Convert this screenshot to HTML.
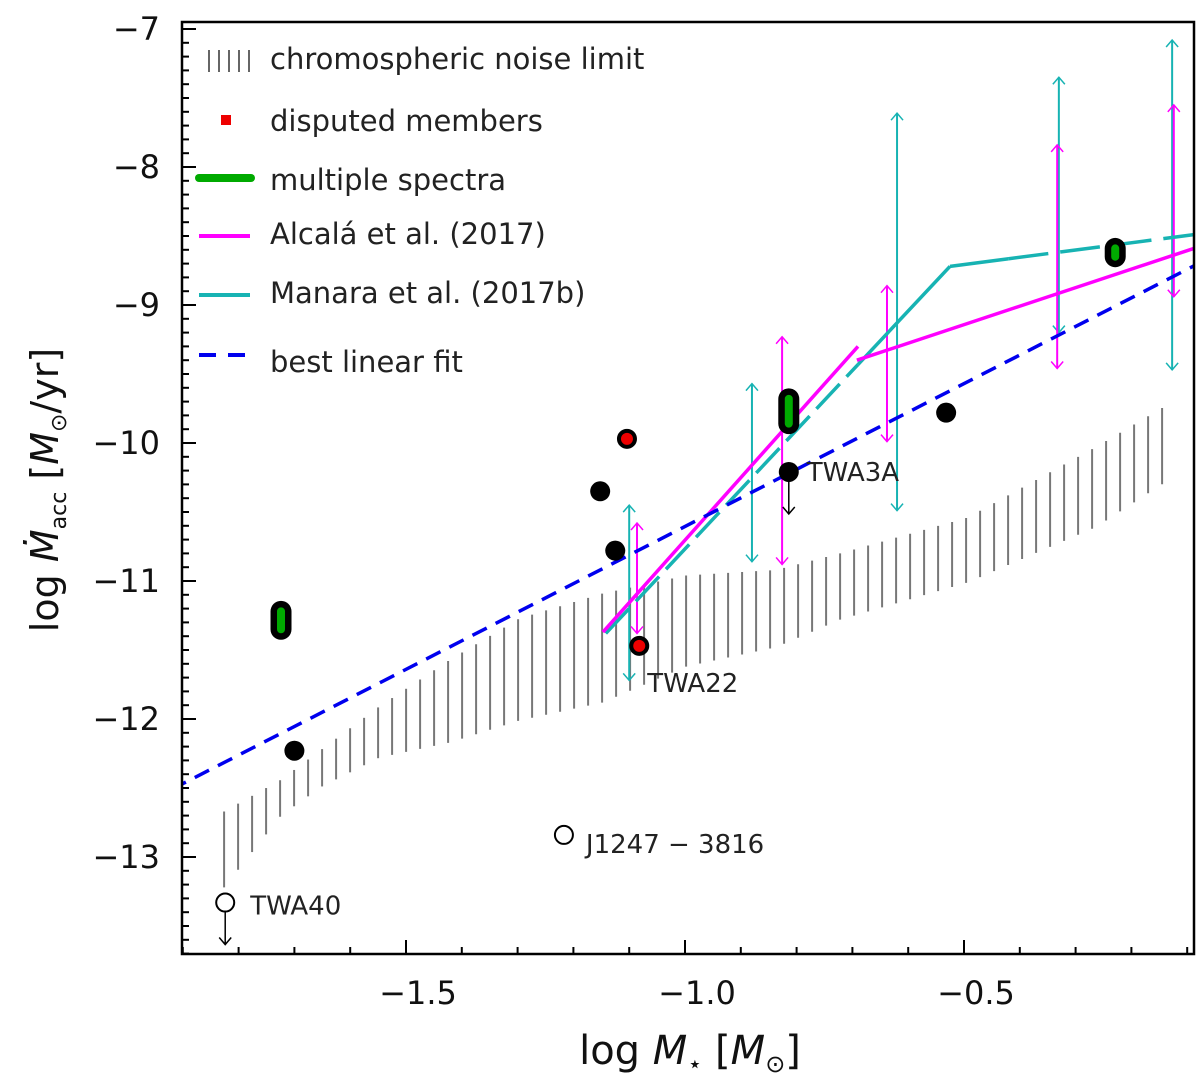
<!DOCTYPE html>
<html><head><meta charset="utf-8"><style>
body{margin:0;background:#fff;}
svg{display:block;font-family:"DejaVu Sans","Liberation Sans",sans-serif;}
</style></head><body>
<svg id="chart" width="1200" height="1082" viewBox="0 0 1200 1082" xmlns="http://www.w3.org/2000/svg">
<defs><clipPath id="clip"><rect x="182" y="22" width="1012" height="932"/></clipPath></defs>
<g id="plot" clip-path="url(#clip)"></g>
<g id="axes"></g>
</svg>
<script>
// ---- data ----
const xTicks = [-1.5, -1.0, -0.5];
const xTickLabels = ["\u22121.5", "\u22121.0", "\u22120.5"];
const yTicks = [-7, -8, -9, -10, -11, -12, -13];
const yTickLabels = ["\u22127", "\u22128", "\u22129", "\u221210", "\u221211", "\u221212", "\u221213"];
const noiseX = [-1.826, -1.724, -1.651, -1.548, -1.421, -1.296, -1.147, -0.998, -0.837, -0.722, -0.493, -0.264, -0.134];
const noiseTop = [-12.67, -12.44, -12.22, -11.91, -11.57, -11.27, -11.09, -10.96, -10.92, -10.80, -10.54, -10.03, -9.72];
const noiseBottom = [-13.22, -12.70, -12.49, -12.28, -12.17, -12.01, -11.88, -11.62, -11.48, -11.28, -11.01, -10.61, -10.27];
const fitX = [-1.92, -0.08];
const fitY = [-12.51, -8.70];
const alcalaX1 = [-1.147, -0.69];
const alcalaY1 = [-11.37, -9.30];
const alcalaX2 = [-0.692, -0.088];
const alcalaY2 = [-9.40, -8.59];
const manaraX = [-1.142, -0.525, -0.088];
const manaraY = [-11.38, -8.72, -8.49];
const magErrX = [-1.086, -0.826, -0.638, -0.333, -0.124];
const magErrHi = [-10.58, -9.23, -8.86, -7.84, -7.55];
const magErrLo = [-11.38, -10.88, -9.99, -9.46, -8.94];
const cyaErrX = [-1.100, -0.880, -0.620, -0.330, -0.127];
const cyaErrHi = [-10.45, -9.57, -7.61, -7.35, -7.08];
const cyaErrLo = [-11.72, -10.86, -10.49, -9.20, -9.47];
const blackX = [-1.70, -1.152, -1.125, -0.814, -0.532];
const blackY = [-12.23, -10.35, -10.78, -10.21, -9.78];
const redX = [-1.104, -1.082];
const redY = [-9.97, -11.47];
const multiX = [-1.724, -0.814, -0.229];
const multiY1 = [-11.22, -9.68, -8.59];
const multiY2 = [-11.35, -9.86, -8.65];
const openX = [-1.217, -1.824];
const openY = [-12.84, -13.33];
const labelNames = ["TWA3A", "TWA22", "J1247 \u2212 3816", "TWA40"];
const labelX = [-0.814, -1.082, -1.217, -1.824];
const labelY = [-10.21, -11.47, -12.84, -13.33];
const upperLimX = [-0.814, -1.824];
const upperLimY = [-10.21, -13.33];

// ---- axes functions ----
const X0 = 406, XS = 558, Y0 = 29, YS = 138;
function sx(v){ return X0 + (v + 1.5) * XS; }
function sy(v){ return Y0 + (-7 - v) * YS; }
const NS = "http://www.w3.org/2000/svg";
function mk(tag, attrs, parent){ const e=document.createElementNS(NS,tag); for(const k in attrs) e.setAttribute(k,attrs[k]); parent.appendChild(e); return e; }
const plot = document.getElementById('plot'), axes = document.getElementById('axes');
function interp(xs, ys, x){ for(let i=0;i<xs.length-1;i++){ if(x>=xs[i]&&x<=xs[i+1]){ const t=(x-xs[i])/(xs[i+1]-xs[i]); return ys[i]+t*(ys[i+1]-ys[i]); } } return x<xs[0]?ys[0]:ys[ys.length-1]; }

// noise hatch
for(let px = sx(noiseX[0]); px <= sx(noiseX[noiseX.length-1]) + 0.5; px += 14){
  const xv = (px - X0)/XS - 1.5;
  const l = mk('line',{x1:px,x2:px,y1:sy(interp(noiseX,noiseTop,xv)),y2:sy(interp(noiseX,noiseBottom,xv)),stroke:'#777','stroke-width':2},plot);
  
  
}

function arrowHead(x, y, dir, color, parent){
  const d = dir<0 ? `M${x-6},${y+7} L${x},${y} L${x+6},${y+7}` : `M${x-6},${y-7} L${x},${y} L${x+6},${y-7}`;
  return mk('path',{d:d,fill:'none',stroke:color,'stroke-width':1.5},parent);
}
function errBars(xs, hi, lo, color, name){
  for(let i=0;i<xs.length;i++){
    const g = mk('g',{},plot);
    
    
    const x=sx(xs[i]), y1=sy(hi[i]), y2=sy(lo[i]);
    mk('line',{x1:x,x2:x,y1:y1,y2:y2,stroke:color,'stroke-width':2},g);
    arrowHead(x,y1,-1,color,g); arrowHead(x,y2,1,color,g);
  }
}
errBars(cyaErrX,cyaErrHi,cyaErrLo,'#17b3b3','manara-range-bar');
errBars(magErrX,magErrHi,magErrLo,'#ff00ff','alcala-range-bar');

// Manara line: segment 1 dashed then solid near kink; segment 2 solid then dashed
function seg(xa,ya,xb,yb,dash,name){
  const l = mk('line',{x1:sx(xa),y1:sy(ya),x2:sx(xb),y2:sy(yb),stroke:'#17b3b3','stroke-width':3.5},plot);
  if(dash) l.setAttribute('stroke-dasharray',dash);
  
  
}
const kx1 = -0.69, ky1 = interp(manaraX, manaraY, kx1);
seg(manaraX[0],manaraY[0],kx1,ky1,'34 10','manara-relation-extrapolated');
seg(kx1,ky1,manaraX[1],manaraY[1],null,'manara-relation-line');
const kx2 = -0.42, ky2 = interp(manaraX, manaraY, kx2);
seg(manaraX[1],manaraY[1],kx2,ky2,null,'manara-relation-line');
seg(kx2,ky2,manaraX[2],manaraY[2],'40 12','manara-relation-extrapolated');
// Alcala
const a1 = mk('line',{x1:sx(alcalaX1[0]),y1:sy(alcalaY1[0]),x2:sx(alcalaX1[1]),y2:sy(alcalaY1[1]),stroke:'#ff00ff','stroke-width':3.5},plot);


const a2 = mk('line',{x1:sx(alcalaX2[0]),y1:sy(alcalaY2[0]),x2:sx(alcalaX2[1]),y2:sy(alcalaY2[1]),stroke:'#ff00ff','stroke-width':3.5},plot);


// fit
const fl = mk('line',{x1:sx(fitX[0]),y1:sy(fitY[0]),x2:sx(fitX[1]),y2:sy(fitY[1]),stroke:'#0000ee','stroke-width':3.5,'stroke-dasharray':'16 10'},plot);



// upper limit arrows
for(let i=0;i<upperLimX.length;i++){
  const g = mk('g',{},plot);
  
  
  const x=sx(upperLimX[i]), y=sy(upperLimY[i]);
  mk('line',{x1:x,x2:x,y1:y,y2:y+42,stroke:'#000','stroke-width':1.5},g);
  arrowHead(x,y+42,1,'#000',g);
}
for(let i=0;i<blackX.length;i++){
  const c = mk('circle',{cx:sx(blackX[i]),cy:sy(blackY[i]),r:10,fill:'#000'},plot);
  
  
}
for(let i=0;i<redX.length;i++){
  const c = mk('circle',{cx:sx(redX[i]),cy:sy(redY[i]),r:8,fill:'#ee0000',stroke:'#000','stroke-width':4},plot);
  
  
}
for(let i=0;i<multiX.length;i++){
  const g = mk('g',{},plot);
  
  
  const x=sx(multiX[i]);
  mk('line',{x1:x,x2:x,y1:sy(multiY1[i]),y2:sy(multiY2[i]),stroke:'#000','stroke-width':21,'stroke-linecap':'round'},g);
  mk('line',{x1:x,x2:x,y1:sy(multiY1[i]),y2:sy(multiY2[i]),stroke:'#00aa00','stroke-width':8,'stroke-linecap':'round'},g);
}
for(let i=0;i<openX.length;i++){
  const c = mk('circle',{cx:sx(openX[i]),cy:sy(openY[i]),r:9,fill:'#fff',stroke:'#000','stroke-width':2},plot);
  
  
}
const lblDx = [18, 8, 22, 25], lblDy = [9, 46, 18, 12];
for(let i=0;i<labelNames.length;i++){
  const t = mk('text',{x:sx(labelX[i])+lblDx[i],y:sy(labelY[i])+lblDy[i],'font-size':26,fill:'#222'},plot);
  t.textContent = labelNames[i];
  
  
}

// axes frame
const fr = mk('rect',{x:182,y:22,width:1012,height:932,fill:'none',stroke:'#000','stroke-width':2.5},axes);


for(let v=-1.9; v<=-0.09; v+=0.1){
  const x=sx(v); const major = xTicks.some(t=>Math.abs(t-v)<1e-6);
  mk('line',{x1:x,x2:x,y1:954,y2:954-(major?14:7),stroke:'#000','stroke-width':2},axes);
}
for(let v=-7; v>=-13.71; v-=0.1){
  const y=sy(v); const major = yTicks.some(t=>Math.abs(t-v)<1e-6);
  mk('line',{x1:182,x2:182+(major?14:7),y1:y,y2:y,stroke:'#000','stroke-width':2},axes);
}
xTicks.forEach((v,i)=>{ const t=mk('text',{x:sx(v)+12,y:1004,'font-size':32,'text-anchor':'middle',fill:'#111'},axes); t.textContent=xTickLabels[i];
    });
yTicks.forEach((v,i)=>{ const t=mk('text',{x:160,y:sy(v)+11,'font-size':32,'text-anchor':'end',fill:'#111'},axes); t.textContent=yTickLabels[i];
    });
</script>
<svg style="position:absolute;left:0;top:0" width="1200" height="1082">
<text x="690" y="1064" font-size="40" text-anchor="middle" font-family="DejaVu Sans, sans-serif" fill="#111">log <tspan font-style="italic">M</tspan><tspan font-size="24" dy="8">⋆</tspan><tspan dy="-8"> [</tspan><tspan font-style="italic">M</tspan><tspan font-size="24" dy="8">⊙</tspan><tspan dy="-8">]</tspan></text>
<text transform="translate(58,490) rotate(-90)" font-size="38" text-anchor="middle" font-family="DejaVu Sans, sans-serif" fill="#111">log <tspan font-style="italic">Ṁ</tspan><tspan font-size="22" dy="8">acc</tspan><tspan dy="-8"> [</tspan><tspan font-style="italic">M</tspan><tspan font-size="22" dy="8">⊙</tspan><tspan dy="-8">/yr]</tspan></text>
<g font-family="DejaVu Sans, sans-serif" font-size="29" fill="#222">
 <g>
  <path d="M209,50V72M219,50V72M229,50V72M239,50V72M249,50V72" stroke="#666" stroke-width="2"/>
  <text x="270" y="69">chromospheric noise limit</text></g>
 <g>
  <rect x="221" y="115" width="10" height="10" fill="#ee0000"/>
  <text x="270" y="131">disputed members</text></g>
 <g>
  <line x1="199" x2="251" y1="178" y2="178" stroke="#00aa00" stroke-width="8" stroke-linecap="round"/>
  <text x="270" y="190">multiple spectra</text></g>
 <g>
  <line x1="199" x2="250" y1="236" y2="236" stroke="#ff00ff" stroke-width="4"/>
  <text x="270" y="244">Alcalá et al. (2017)</text></g>
 <g>
  <line x1="199" x2="250" y1="295" y2="295" stroke="#17b3b3" stroke-width="4"/>
  <text x="270" y="303">Manara et al. (2017b)</text></g>
 <g>
  <line x1="199" x2="250" y1="355" y2="355" stroke="#0000ee" stroke-width="4" stroke-dasharray="17 12"/>
  <text x="270" y="372">best linear fit</text></g>
</g>
</svg>
</body></html>
